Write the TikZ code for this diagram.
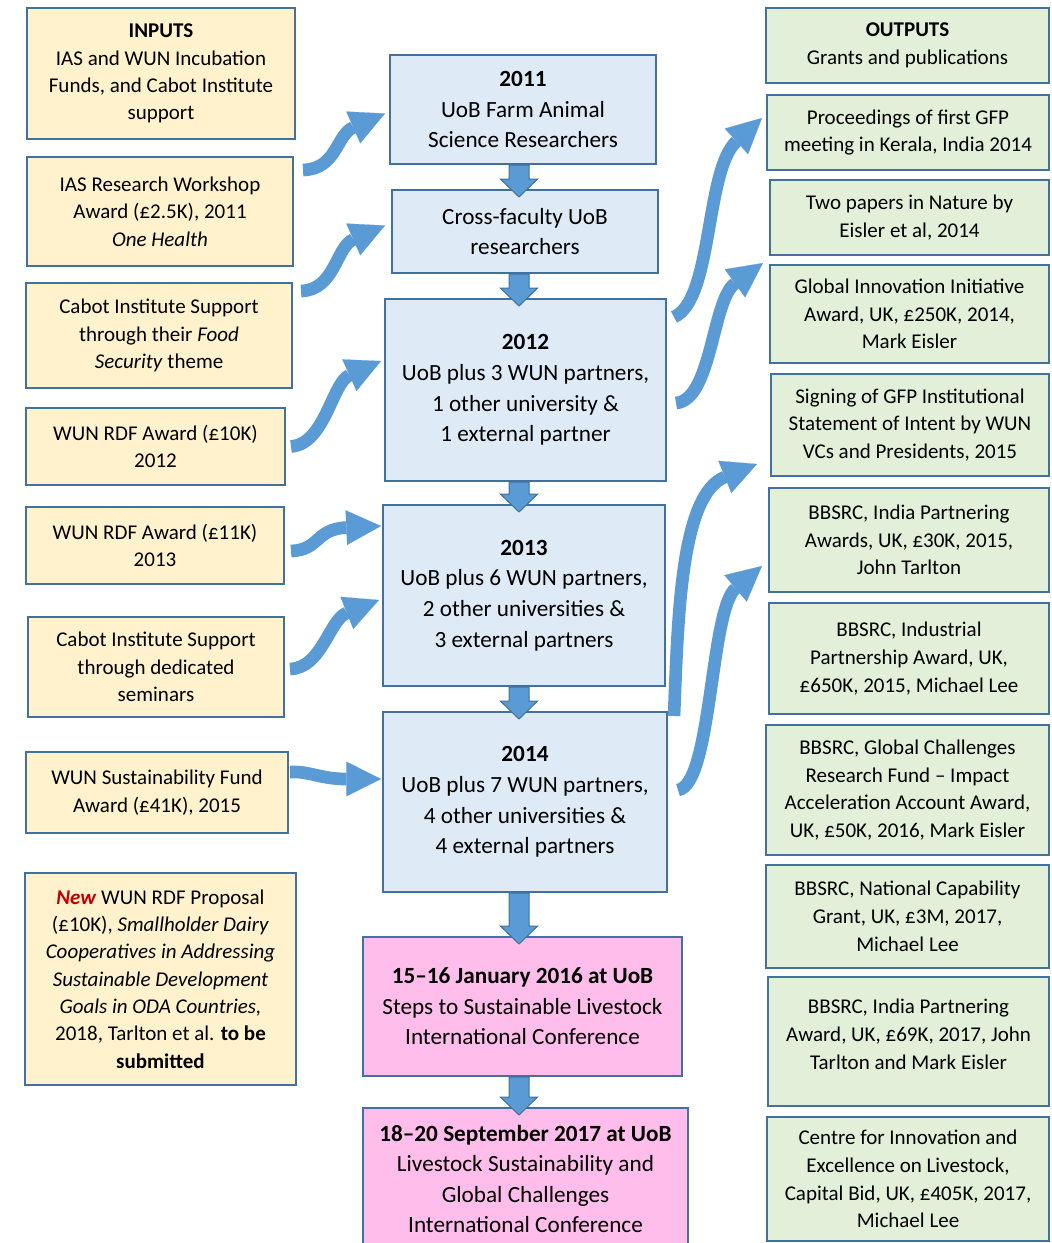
\documentclass[tikz,border=0pt]{standalone}
\usepackage{fontspec}
\setmainfont{Carlito}
\usetikzlibrary{arrows.meta,calc}
\definecolor{edge}{HTML}{41719C}
\definecolor{flowblue}{HTML}{5B9BD5}
\definecolor{inyellow}{HTML}{FFF2CC}
\definecolor{midblue}{HTML}{DEEBF7}
\definecolor{outgreen}{HTML}{E2F0D9}
\definecolor{confpink}{HTML}{FFBDEB}
\definecolor{newred}{HTML}{C00000}
\tikzset{
  box/.style={draw=edge, line width=1.5pt, align=center, inner sep=0pt},
  sz/.style 2 args={minimum width=#1*0.75pt, minimum height=#2*0.75pt},
  inbox/.style={box, fill=inyellow, font=\fontsize{15.75}{20.5}\selectfont},
  outbox/.style={box, fill=outgreen, font=\fontsize{15.75}{20.8}\selectfont},
  midbox/.style={box, fill=midblue, font=\fontsize{17.4}{22.9}\selectfont},
  confbox/.style={box, fill=confpink, font=\fontsize{17.4}{22.9}\selectfont},
  flow/.style={draw=flowblue, line width=9.5pt,
    -{Triangle[length=26pt,width=26pt,line width=0.1pt]}},
  blk/.style={draw=edge, fill=flowblue, line width=0.75pt, line join=miter}
}
\begin{document}
\begin{tikzpicture}[x=0.75pt,y=-0.75pt]
\useasboundingbox (0,0) rectangle (1051,1243);
% inputs
\node[inbox, sz={268}{131}] (in1) at (161,73.5) {\textbf{INPUTS}\\IAS and WUN Incubation\\Funds, and Cabot Institute\\support};
\node[inbox, sz={266}{109}] (in2) at (160,211.5) {IAS Research Workshop\\Award (£2.5K), 2011\\\textit{One Health}};
\node[inbox, sz={266}{105}] (in3) at (159,335.5) {Cabot Institute Support\\through their \textit{Food}\\\textit{Security} theme};
\node[inbox, sz={259}{77}] (in4) at (155.5,446.5) {WUN RDF Award (£10K)\\2012};
\node[inbox, sz={258}{77}] (in5) at (155,545.5) {WUN RDF Award (£11K)\\2013};
\node[inbox, sz={256}{100}] (in6) at (156,667) {Cabot Institute Support\\through dedicated\\seminars};
\node[inbox, sz={262}{81}] (in7) at (157,792.5) {WUN Sustainability Fund\\Award (£41K), 2015};
\node[inbox, sz={271}{212}] (in8) at (160.5,979) {\textcolor{newred}{\textbf{\textit{New}}} WUN RDF Proposal\\(£10K), \textit{Smallholder Dairy}\\\textit{Cooperatives in Addressing}\\\textit{Sustainable Development}\\\textit{Goals in ODA Countries,}\\2018, Tarlton et al. \textbf{to be}\\\textbf{submitted}};
% stages
\node[midbox, sz={266}{109}] (m2011) at (523,109.5) {\textbf{2011}\\UoB Farm Animal\\Science Researchers};
\node[midbox, sz={266}{83}] (mcross) at (525,231.5) {Cross-faculty UoB\\researchers};
\node[midbox, sz={281}{182}] (m2012) at (525.5,390) {\textbf{2012}\\UoB plus 3 WUN partners,\\1 other university \&\\1 external partner};
\node[midbox, sz={282}{181}] (m2013) at (524,595.5) {\textbf{2013}\\UoB plus 6 WUN partners,\\2 other universities \&\\3 external partners};
\node[midbox, sz={284}{180}] (m2014) at (525,802) {\textbf{2014}\\UoB plus 7 WUN partners,\\4 other universities \&\\4 external partners};
\node[confbox, sz={319}{139}] (conf16) at (522.5,1006.5) {\textbf{15–16 January 2016 at UoB}\\Steps to Sustainable Livestock\\International Conference};
\node[confbox, sz={325}{142}] (conf17) at (525.5,1179) {\textbf{18–20 September 2017 at UoB}\\Livestock Sustainability and\\Global Challenges\\International Conference};
% outputs
\node[outbox, sz={283}{75}] (out1) at (907.5,45.5) {\textbf{OUTPUTS}\\Grants and publications};
\node[outbox, sz={282}{75}] (out2) at (908,132.5) {Proceedings of first GFP\\meeting in Kerala, India 2014};
\node[outbox, sz={279}{75}] (out3) at (909.5,217.5) {Two papers in Nature by\\Eisler et al, 2014};
\node[outbox, sz={279}{98}] (out4) at (909.5,314) {Global Innovation Initiative\\Award, UK, £250K, 2014,\\Mark Eisler};
\node[outbox, sz={278}{102}] (out5) at (910,425) {Signing of GFP Institutional\\Statement of Intent by WUN\\VCs and Presidents, 2015};
\node[outbox, sz={280}{104}] (out6) at (909,540) {BBSRC, India Partnering\\Awards, UK, £30K, 2015,\\John Tarlton};
\node[outbox, sz={280}{111}] (out7) at (909,658.5) {BBSRC, Industrial\\Partnership Award, UK,\\£650K, 2015, Michael Lee};
\node[outbox, sz={283}{130}] (out8) at (907.5,790) {BBSRC, Global Challenges\\Research Fund – Impact\\Acceleration Account Award,\\UK, £50K, 2016, Mark Eisler};
\node[outbox, sz={283}{103}] (out9) at (907.5,916.5) {BBSRC, National Capability\\Grant, UK, £3M, 2017,\\Michael Lee};
\node[outbox, sz={281}{129}] (out10) at (908.5,1041.5) {BBSRC, India Partnering\\Award, UK, £69K, 2017, John\\Tarlton and Mark Eisler\\[-10pt]};
\node[outbox, sz={282}{124}] (out11) at (908,1179) {Centre for Innovation and\\Excellence on Livestock,\\Capital Bid, UK, £405K, 2017,\\Michael Lee};
% down arrows
\foreach \a/\b in {m2011/mcross, mcross/m2012, m2012/m2013, m2013/m2014, m2014/conf16, conf16/conf17}
  \draw[blk] let \p1=(\a.south), \p2=(\b.north), \p3=(519,0) in
    (\x3-7.5pt,\y1) -- (\x3-7.5pt,\y2+7.5pt) -- (\x3-14pt,\y2+7.5pt) -- (\x3,\y2-6pt)
    -- (\x3+14pt,\y2+7.5pt) -- (\x3+7.5pt,\y2+7.5pt) -- (\x3+7.5pt,\y1) -- cycle;
% inputs to stages
\draw[flow] ([shift={(9,14)}]in2.north east) .. controls (337,169) and (336,135) .. ([shift={(-4,4)}]m2011.west);
\draw[flow] ([shift={(8,9)}]in3.north east) .. controls (335,290) and (336,247) .. ([shift={(-6,-6)}]mcross.west);
\draw[flow] ([shift={(5,0)}]in4.east) .. controls (325,444) and (332,383) .. ([shift={(-3,-29)}]m2012.west);
\draw[flow] ([shift={(6,5.5)}]in5.east) .. controls (320,550) and (315,529) .. ([shift={(-1,-69.5)}]m2013.west);
\draw[flow] ([shift={(5,2)}]in6.east) .. controls (322,668) and (329,620) .. ([shift={(-3,4.5)}]m2013.west);
\draw[flow] ([shift={(1,-20.5)}]in7.east) .. controls (310,771) and (320,779) .. ([shift={(-1,-23)}]m2014.west);
% stages to outputs
\draw[flow] ([shift={(7,19)}]m2012.north east) .. controls (713,300) and (705,170) .. ([shift={(-4,-14.5)}]out2.west);
\draw[flow] ([shift={(9,13)}]m2012.east) .. controls (712,400) and (712,300) .. ([shift={(-6,-1)}]out4.north west);
\draw[flow] ([shift={(6,5)}]m2014.north east) .. controls (678,620) and (680,495) .. ([shift={(-13,-13)}]out5.south west);
\draw[flow] ([shift={(10,-12)}]m2014.east) .. controls (712,785) and (710,610) .. ([shift={(-6,26)}]out6.west);
\end{tikzpicture}
\end{document}
